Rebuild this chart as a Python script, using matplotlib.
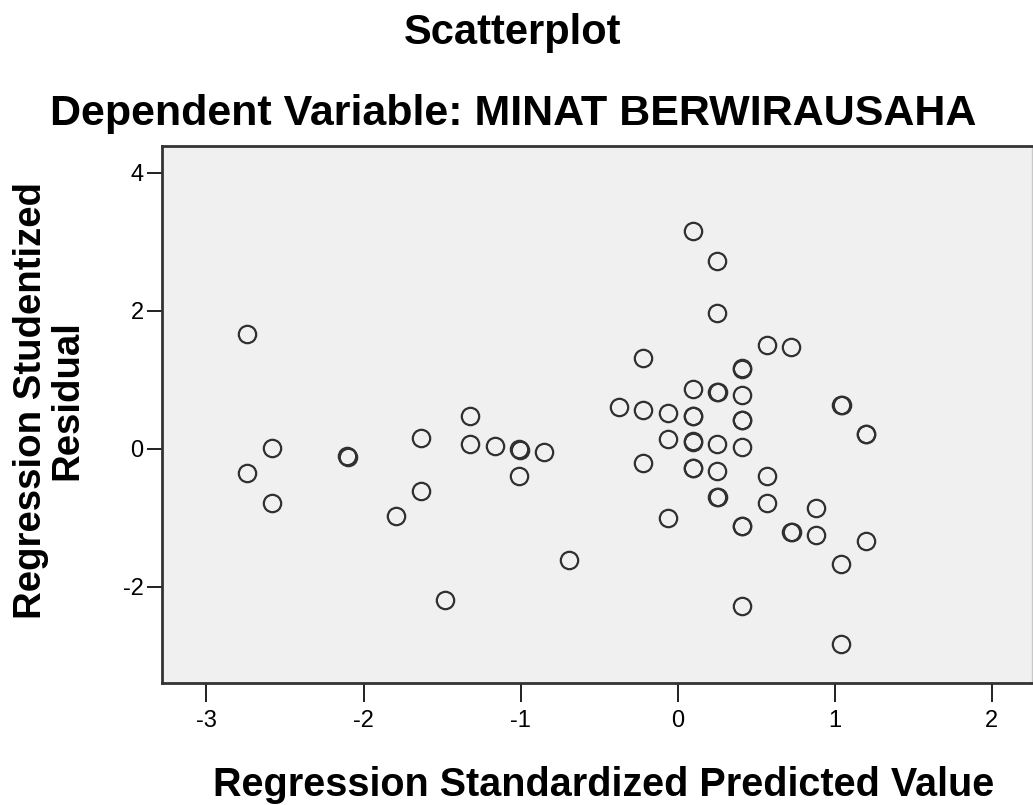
import matplotlib
matplotlib.use("Agg")
import matplotlib.pyplot as plt

# standardized predicted value (x) and studentized residual (y)
pred_x = [-2.74, -2.58, -2.74, -2.58, -2.107, -2.102, -1.637, -1.637, -1.793, -1.482,
          -1.322, -1.322, -1.163, -1.008, -1.004, -0.849, -1.008, -0.692,
          0.095, 0.252, 0.252, 0.567, 0.723, -0.219, 0.409, 0.412, 0.095, 0.252, 0.255,
          0.409, 1.04, 1.043, -0.376, -0.219, -0.062, 0.095, 0.098, 0.409, 0.412,
          1.197, 1.200, -0.062, 0.095, 0.098, 0.252, 0.409, -0.219, 0.095, 0.098,
          0.252, 0.567, 0.252, 0.255, 0.567, 0.88, -0.062, 0.409, 0.412, 0.723, 0.726,
          0.88, 1.197, 1.04, 0.409, 1.04]
resid_y = [1.656, 0.009, -0.348, -0.788, -0.105, -0.118, 0.159, -0.614, -0.971, -2.199,
           0.468, 0.072, 0.038, -0.005, -0.015, -0.049, -0.391, -1.619,
           3.149, 2.725, 1.965, 1.507, 1.472, 1.319, 1.159, 1.165, 0.859, 0.820, 0.826,
           0.782, 0.627, 0.633, 0.603, 0.565, 0.516, 0.472, 0.478, 0.410, 0.416,
           0.207, 0.213, 0.135, 0.100, 0.106, 0.065, 0.023, -0.203, -0.286, -0.280,
           -0.324, -0.401, -0.701, -0.695, -0.783, -0.865, -1.000, -1.126, -1.120, -1.208, -1.202,
           -1.256, -1.339, -1.677, -2.275, -2.826]

x_ticks = [-3, -2, -1, 0, 1, 2]
y_ticks = [-2, 0, 2, 4]

plt.rcParams['font.family'] = ['Liberation Sans', 'DejaVu Sans']
plt.rcParams['axes.unicode_minus'] = False

fig = plt.figure(figsize=(10.33, 8.05), dpi=100)
ax = fig.add_axes([0.1568, 0.1516, 0.8422, 0.6674])
ax.set_facecolor('#f0f0f0')

ax.plot(pred_x, resid_y, 'o', ms=12.5, mfc='none', mec='#303030', mew=1.6)

ax.set_xlim(-3.283, 2.255)
ax.set_ylim(-3.396, 4.391)
ax.set_xticks(x_ticks)
ax.set_yticks(y_ticks)
ax.tick_params(axis='x', length=13.7, width=1.4, pad=6, labelsize=17, color='#202020')
ax.tick_params(axis='y', length=10.8, width=1.4, pad=2.5, labelsize=17, color='#202020')

for side in ['left', 'bottom', 'top']:
    ax.spines[side].set_linewidth(2)
    ax.spines[side].set_color('#333333')
ax.spines['right'].set_linewidth(1)
ax.spines['right'].set_color('#c8c8c8')

# titles and axis labels
fig.text(0.4966, 0.9453, 'Scatterplot', ha='center', va='baseline',
         fontsize=30, fontweight='bold')
fig.text(0.4966, 0.8447, 'Dependent Variable: MINAT BERWIRAUSAHA', ha='center',
         va='baseline', fontsize=31, fontweight='bold')
fig.text(0.5847, 0.0112, 'Regression Standardized Predicted Value', ha='center',
         va='baseline', fontsize=28.5, fontweight='bold')
fig.text(0.0475, 0.503, 'Regression Studentized\nResidual', ha='center', va='center',
         rotation=90, multialignment='center', linespacing=1.0,
         fontsize=27.6, fontweight='bold')

fig.savefig('out.png', dpi=100)
